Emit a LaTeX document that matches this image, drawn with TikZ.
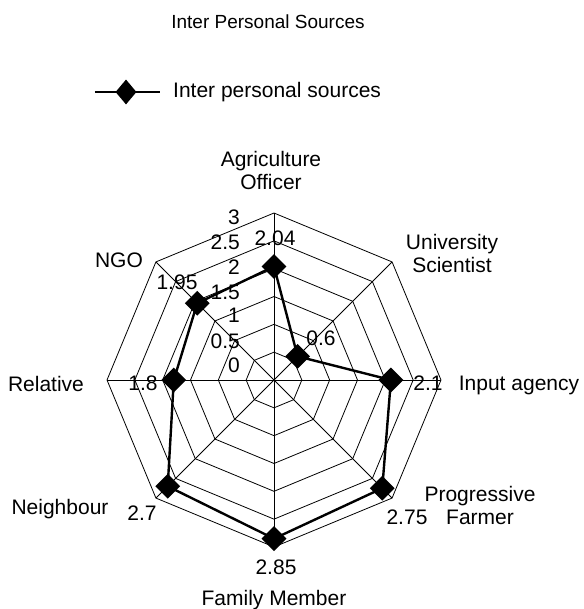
\documentclass[tikz,border=0pt]{standalone}
\usepackage{fontspec}
\setmainfont{Liberation Sans}
\usetikzlibrary{shapes.geometric}

\begin{document}
\begin{tikzpicture}[x=1pt, y=1pt,
  grid/.style={line width=0.8pt},
  series/.style={line width=2.4pt},
  marker/.style={diamond, fill=black, inner sep=0pt, minimum width=25pt, minimum height=25pt},
  lbl/.style={font=\fontsize{21}{23}\selectfont, inner sep=0pt, align=center}]
  \useasboundingbox (-274,-229) rectangle (309,380);
  % Title
  \node[lbl, font=\fontsize{19}{21}\selectfont] (title) at (-6,358) {Inter Personal Sources};
  % Legend
  \coordinate (legL) at (-179,288);
  \coordinate (legR) at (-114,288);
  \draw[series] (legL) -- (legR);
  \node[marker, minimum width=21pt, minimum height=25pt] (legmark) at (-148,288) {};
  \node[lbl, anchor=west] (legtext) at (-101,288) {Inter personal sources};
  % Rings
  \foreach \r in {1,...,6} {
    \draw[grid] (90:\r*27.83) \foreach \a in {45,0,...,-225} { -- (\a:\r*27.83) } -- cycle;
  }
  % Spokes
  \foreach \a in {90,45,...,-225} \draw[grid] (0,0) -- (\a:167);
  % Scale labels
  \foreach \v/\y [count=\k] in {0/15, 0.5/39, 1/65, 1.5/88, 2/113, 2.5/138, 3/163}
    \node[lbl, anchor=east] (s\k) at (-34,\y) {\v};
  % Data
  \foreach \v/\a/\n in {2.04/90/ao, 0.6/45/us, 2.1/0/ia, 2.75/-45/pf, 2.85/-90/fm, 2.7/-135/nb, 1.8/180/rl, 1.95/135/ngo}
    \coordinate (\n) at (\a:\v*55.67);
  \draw[series] (ao) -- (us) -- (ia) -- (pf) -- (fm) -- (nb) -- (rl) -- (ngo) -- cycle;
  \foreach \n in {ao, us, ia, pf, fm, nb, rl, ngo}
    \node[marker] (m-\n) at (\n) {};
  % Value labels
  \node[lbl] (v-ao) at (1,142) {2.04};
  \node[lbl] (v-us) at (47,42) {0.6};
  \node[lbl] (v-ia) at (154,-3) {2.1};
  \node[lbl] (v-pf) at (133,-137) {2.75};
  \node[lbl] (v-fm) at (2,-187) {2.85};
  \node[lbl] (v-nb) at (-132,-133) {2.7};
  \node[lbl] (v-rl) at (-131,-3) {1.8};
  \node[lbl] (v-ngo) at (-97,98) {1.95};
  % Category labels
  \node[lbl] (c-ao) at (-3,209) {Agriculture\\Officer};
  \node[lbl] (c-us) at (178,126.5) {University\\Scientist};
  \node[lbl] (c-ia) at (245,-5) {Input agency};
  \node[lbl] (c-pf) at (206,-125) {Progressive\\Farmer};
  \node[lbl] (c-fm) at (0,-220) {Family Member};
  \node[lbl] (c-nb) at (-214,-129) {Neighbour};
  \node[lbl] (c-rl) at (-228,-4) {Relative};
  \node[lbl] (c-ngo) at (-155,120) {NGO};
\end{tikzpicture}
\end{document}
